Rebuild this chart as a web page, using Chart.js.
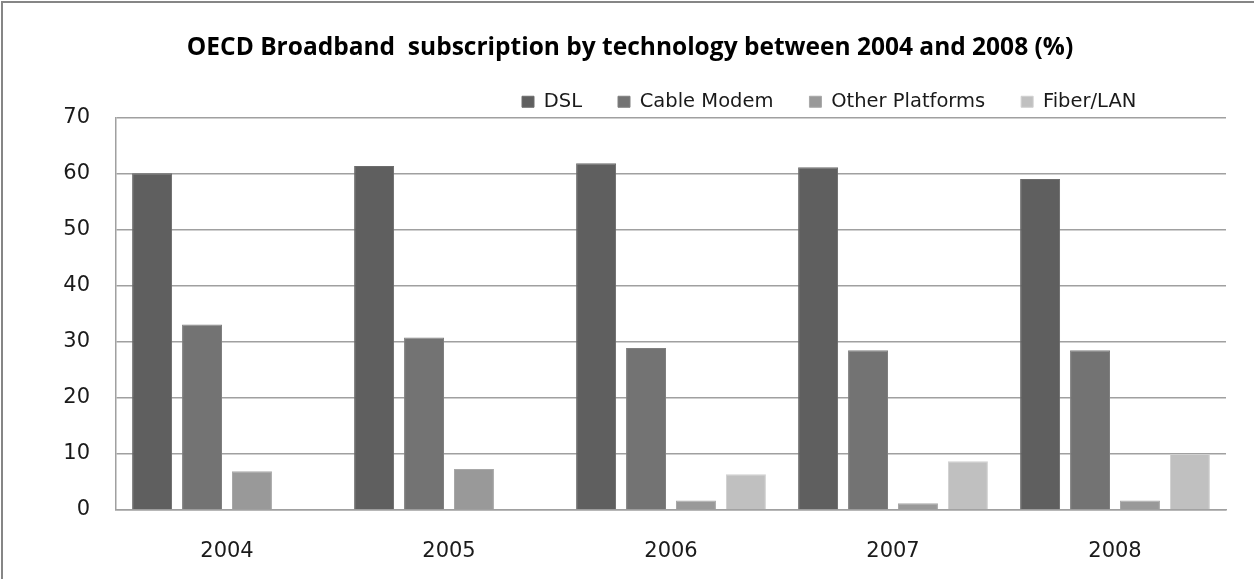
<!DOCTYPE html>
<html>
<head>
<meta charset="utf-8">
<script src="https://cdn.jsdelivr.net/npm/chart.js@4.4.1/dist/chart.umd.min.js"></script>
<style>
    html, body { margin: 0; padding: 0; background: #fff; }
    #wrap { position: relative; width: 1254px; height: 579px; overflow: hidden; }
    #frame {
        position: absolute; left: 1px; top: 1px; right: -10px; bottom: -10px;
        border-left: 2px solid #868686; border-top: 2px solid #868686;
        pointer-events: none;
    }
</style>
</head>
<body>
<div id="wrap">
    <canvas id="chart" width="1254" height="579"></canvas>
    <div id="frame"></div>
</div>
<script>
// values (%)
var years = ['2004', '2005', '2006', '2007', '2008'];
var dsl = [60.1, 61.4, 61.9, 61.2, 59.1];
var cableModem = [33.1, 30.8, 28.9, 28.5, 28.5];
var otherPlatforms = [6.9, 7.3, 1.7, 1.2, 1.7];
var fiberLan = [null, null, 6.4, 8.7, 10.0];
var seriesNames = ['DSL', 'Cable Modem', 'Other Platforms', 'Fiber/LAN'];
var yMin = 0;
var yMax = 70;
var yStep = 10;

var titleText = 'OECD Broadband  subscription by technology between 2004 and 2008 (%)';

// legend sits top right, above the plot, like the excel one
var LEGEND_LEFT = 486;
var LEGEND_TOP = 56;
// title is centred on the whole frame, not on the padded box
var TITLE_SHIFT_X = 16;
var TITLE_SHIFT_Y = 10;

var boxPlacement = {
    id: 'boxPlacement',
    afterLayout: function (chart) {
        var lg = chart.legend;
        if (lg) {
            var dx = LEGEND_LEFT - lg.left;
            var dy = LEGEND_TOP - lg.top;
            lg.left += dx;
            lg.right += dx;
            lg.top += dy;
            lg.bottom += dy;
        }
        var tb = chart.titleBlock;
        if (tb) {
            tb.left += TITLE_SHIFT_X;
            tb.right += TITLE_SHIFT_X;
            tb.top += TITLE_SHIFT_Y;
            tb.bottom += TITLE_SHIFT_Y;
        }
    }
};

function barSet(label, values, fill, edge) {
    return {
        label: label,
        data: values,
        backgroundColor: fill,
        borderColor: edge,
        borderWidth: 1,
        categoryPercentage: 0.9,
        barPercentage: 0.8
    };
}

var tickFont = {family: "'DejaVu Sans', sans-serif", size: 21};
var lineGrey = '#a0a0a0';

var chart = new Chart(document.getElementById('chart').getContext('2d'), {
    type: 'bar',
    data: {
        labels: years,
        datasets: [
            barSet(seriesNames[0], dsl, '#5f5f5f', '#6c6c6c'),
            barSet(seriesNames[1], cableModem, '#737373', '#808080'),
            barSet(seriesNames[2], otherPlatforms, '#999999', '#a8a8a8'),
            barSet(seriesNames[3], fiberLan, '#c0c0c0', '#d0d0d0')
        ]
    },
    options: {
        responsive: false,
        animation: false,
        layout: {padding: {left: 2, right: 28, top: 0, bottom: 0}},
        plugins: {
            title: {
                display: true,
                text: titleText,
                color: '#000',
                font: {family: "'Open Sans', sans-serif", weight: 'bold', size: 24.5, lineHeight: 1.2},
                padding: {top: 23, bottom: 0}
            },
            legend: {
                display: true,
                position: 'top',
                align: 'start',
                labels: {
                    boxWidth: 12,
                    boxHeight: 11,
                    padding: 36,
                    color: '#1a1a1a',
                    font: {family: "'DejaVu Sans', sans-serif", size: 19.5}
                }
            },
            tooltip: {enabled: false}
        },
        scales: {
            x: {
                grid: {display: false, drawTicks: false},
                border: {display: true, color: lineGrey, width: 1.5},
                ticks: {padding: 29, color: '#1a1a1a', font: tickFont},
                afterFit: function (s) { s.height = 69; }
            },
            y: {
                min: yMin,
                max: yMax,
                grid: {color: lineGrey, lineWidth: 1.5, drawTicks: false},
                border: {display: true, color: lineGrey, width: 1.5},
                ticks: {stepSize: yStep, padding: 26, color: '#1a1a1a', font: tickFont},
                afterFit: function (s) { s.width = 114; }
            }
        }
    },
    plugins: [boxPlacement]
});
</script>
</body>
</html>
